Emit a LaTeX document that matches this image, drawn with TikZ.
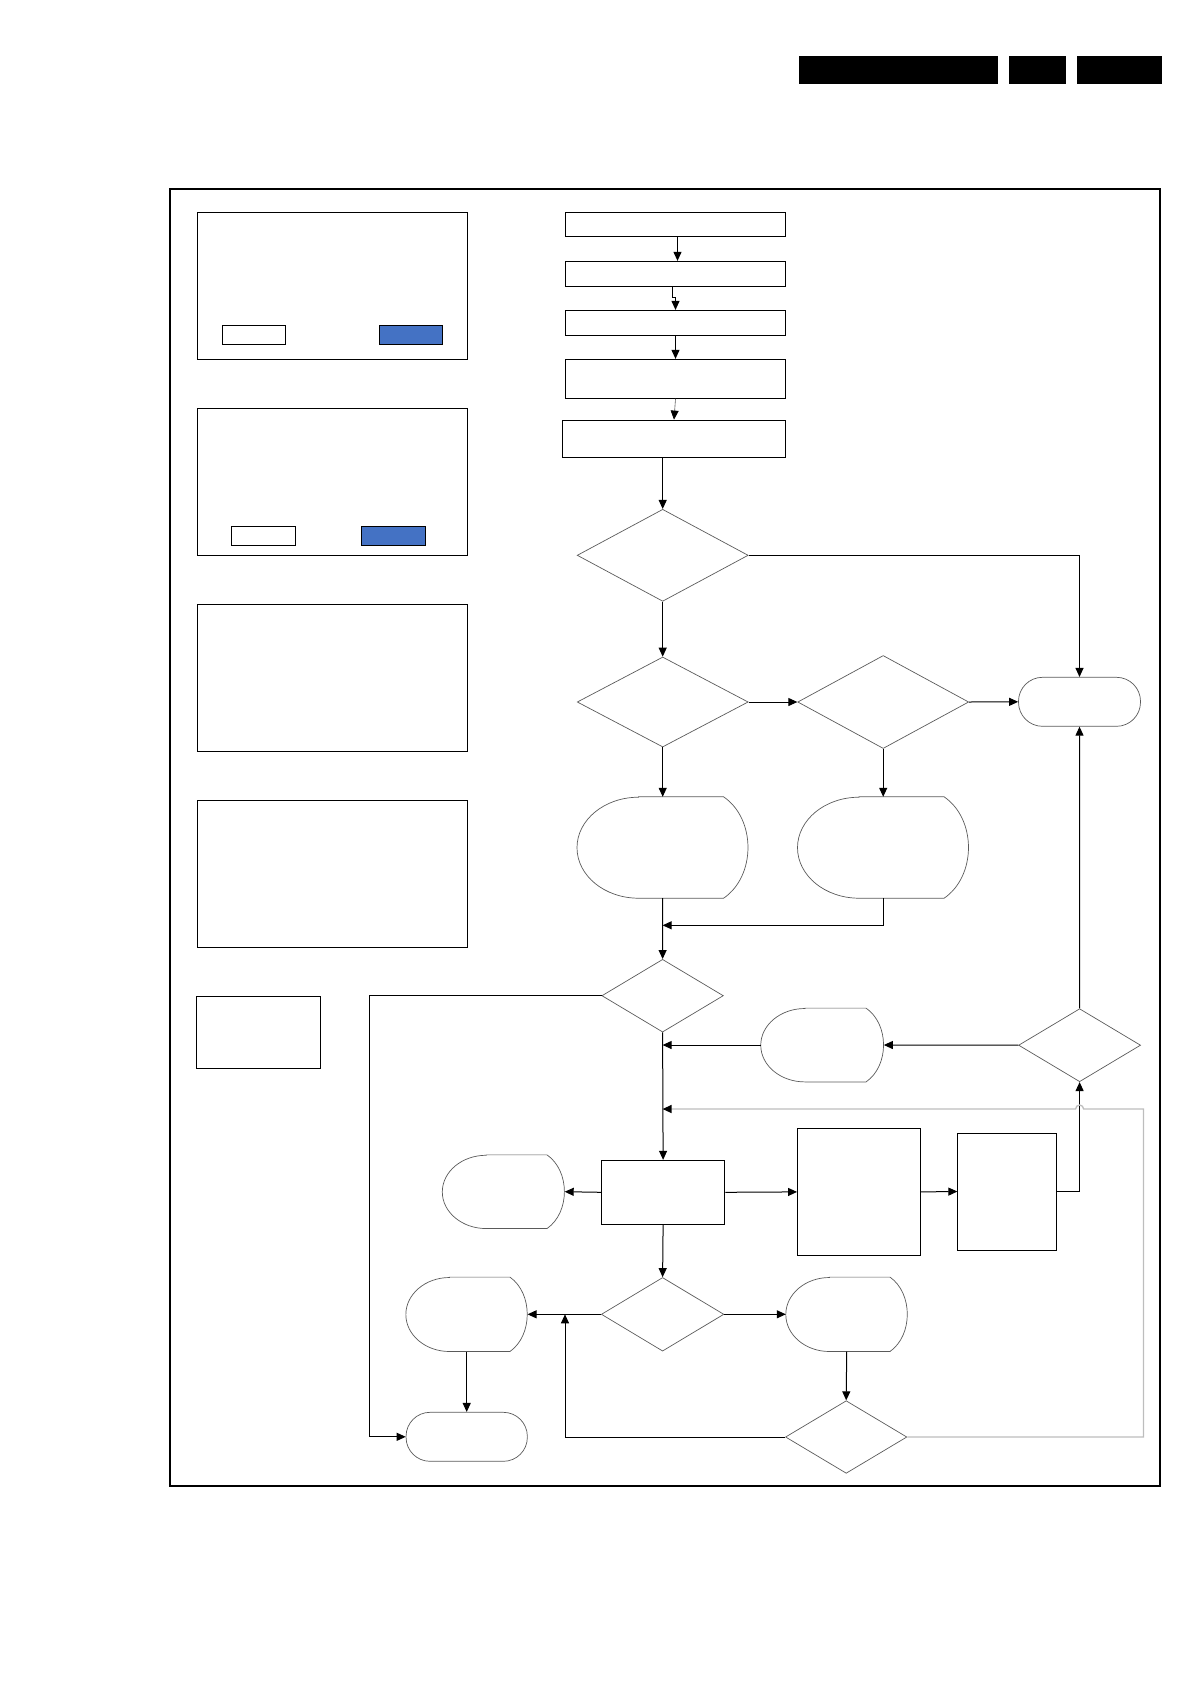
\documentclass[tikz,border=0pt]{standalone}
\usepackage{xcolor}
\usepackage{tikz}
\usetikzlibrary{arrows.meta, shapes.geometric}

\definecolor{linegray}{HTML}{5A5A5A}
\definecolor{loopgray}{HTML}{BDBDBD}
\definecolor{btnblue}{HTML}{4472C4}

% display shape: name, x, y, width, height
\newcommand{\dispnode}[5]{%
  \node[hold, minimum width=#4pt, minimum height=#5pt] (#1) at (#2,#3) {};
  \draw[outl] ([xshift=0.36*#4pt]#1.north west) -- ([xshift=-0.145*#4pt]#1.north east)
    .. controls +(0.19*#4pt,-0.22*#5pt) and +(0.19*#4pt,0.22*#5pt) .. ([xshift=-0.145*#4pt]#1.south east)
    -- ([xshift=0.36*#4pt]#1.south west)
    arc[start angle=270, end angle=90, x radius=0.36*#4pt, y radius=0.5*#5pt] -- cycle;
}

\begin{document}
\begin{tikzpicture}[x=1pt, y=1pt,
  box/.style={rectangle, draw, line width=0.9pt, inner sep=0},
  hold/.style={rectangle, inner sep=0},
  outl/.style={draw=linegray, line width=0.7pt},
  dia/.style={diamond, draw=linegray, line width=0.7pt, inner sep=0},
  term/.style={rectangle, draw=linegray, line width=0.7pt, rounded corners=24pt,
               minimum width=122pt, minimum height=49pt, inner sep=0},
  bar/.style={rectangle, fill=black, inner sep=0, minimum height=28pt},
  arrow/.style={-{Triangle[length=9pt, width=8pt]}, line width=1pt},
  gline/.style={-{Triangle[length=9pt, width=8pt, color=black]}, draw=loopgray, line width=1.3pt}
]
\useasboundingbox (0,0) rectangle (1191,-1684);

% header bars
\node[bar, minimum width=199pt] (hd1) at (898.5,-70) {};
\node[bar, minimum width=57pt]  (hd2) at (1037.5,-70) {};
\node[bar, minimum width=85pt]  (hd3) at (1119.5,-70) {};

% frame
\node[box, line width=1.3pt, minimum width=990pt, minimum height=1297pt] (frame) at (664.9,-837.5) {};

% left panels
\node[box, minimum width=270pt, minimum height=147pt] (pan1) at (332.3,-285.8) {};
\node[box, minimum width=270pt, minimum height=147pt] (pan2) at (332.3,-481.8) {};
\node[box, minimum width=270pt, minimum height=147pt] (pan3) at (332.3,-677.8) {};
\node[box, minimum width=270pt, minimum height=147pt] (pan4) at (332.3,-873.8) {};
\node[box, minimum width=123.5pt, minimum height=72pt] (pan5) at (258.3,-1032.6) {};
\node[box, minimum width=63.4pt, minimum height=19pt] (btn1a) at (254,-334.8) {};
\node[box, fill=btnblue, minimum width=63pt, minimum height=19pt] (btn1b) at (410.8,-334.8) {};
\node[box, minimum width=64.4pt, minimum height=19pt] (btn2a) at (263.5,-535.8) {};
\node[box, fill=btnblue, minimum width=64.4pt, minimum height=19pt] (btn2b) at (393.5,-535.8) {};

% start steps
\node[box, minimum width=220.4pt, minimum height=23.7pt] (st1) at (675.5,-224.2) {};
\node[box, minimum width=220.4pt, minimum height=25pt]   (st2) at (675.5,-273.8) {};
\node[box, minimum width=220.4pt, minimum height=24.7pt] (st3) at (675.5,-322.7) {};
\node[box, minimum width=220.4pt, minimum height=39pt]   (st4) at (675.5,-378.8) {};
\node[box, minimum width=223.4pt, minimum height=37.3pt] (st5) at (674,-438.7) {};

% decisions, upper part
\node[dia, minimum width=171pt, minimum height=92pt] (q1) at (662.7,-555.3) {};
\node[dia, minimum width=171pt, minimum height=90pt] (q2) at (662.7,-702) {};
\node[dia, minimum width=171pt, minimum height=93pt] (q3) at (883.2,-702) {};
\node[term] (endA) at (1079.5,-701.8) {};
\dispnode{dsp1}{662.7}{-847.5}{171}{101}
\dispnode{dsp2}{883.2}{-847.5}{171}{101}

% lower part
\node[dia, minimum width=121.5pt, minimum height=72.7pt] (q4) at (662.6,-995.7) {};
\dispnode{dsp3}{822.3}{-1045}{122.7}{73.4}
\node[dia, minimum width=122pt, minimum height=73pt] (q5) at (1079.6,-1045.2) {};
\node[box, minimum width=123.4pt, minimum height=64pt] (proc) at (663.1,-1192.3) {};
\dispnode{dsp4}{503.5}{-1191.7}{122}{73.3}
\node[box, minimum width=123pt, minimum height=127.2pt] (blk1) at (859,-1191.9) {};
\node[box, minimum width=98.2pt, minimum height=117pt] (blk2) at (1006.9,-1191.5) {};
\node[dia, minimum width=122.5pt, minimum height=73.6pt] (q6) at (662.6,-1314.3) {};
\dispnode{dsp5}{466.7}{-1314.3}{121.3}{74}
\dispnode{dsp6}{846.7}{-1314.3}{121.4}{74}
\node[dia, minimum width=121.4pt, minimum height=72.6pt] (q7) at (846.2,-1437) {};
\node[term, minimum width=121.3pt] (endB) at (466.7,-1436.8) {};

\coordinate (mrg) at (662.6,-925.3);
\coordinate (lp) at (369.2,-995.7);
\coordinate (rt) at (565,-1314.3);
\coordinate (gc) at (1143.5,-1109);

% connectors
\draw[arrow] ([xshift=2pt]st1.south) -- ([xshift=2pt]st2.north);
\draw[arrow] ([xshift=-3pt]st2.south) -- ++(0,-11) -| (st3.north);
\draw[arrow] (st3.south) -- (st4.north);
\draw[-{Triangle[length=9pt, width=8pt, color=black]}, draw=linegray, line width=0.6pt] (st4.south) -- (st5.north);
\draw[arrow] (q1.north |- st5.south) -- (q1.north);
\draw[arrow] (q1.east) -| (endA.north);
\draw[arrow] (q1.south) -- (q2.north);
\draw[arrow] (q2.east) -- (q3.west);
\draw[arrow] (q3.east) -- (endA.west);
\draw[arrow] (q2.south) -- (dsp1.north);
\draw[arrow] (q3.south) -- (dsp2.north);
\draw[arrow] (dsp1.south) -- (q4.north);
\draw[arrow] (dsp2.south) |- (mrg);
\draw[arrow] (q4.west) -- (lp) |- (endB.west);
\draw[arrow] (q5.north) -- (endA.south);
\draw[arrow] (q5.west) -- (dsp3.east);
\draw[arrow] (dsp3.west) -- (q4.south |- dsp3.west);
\draw[arrow] (q4.south) -- (proc.north);
\draw[arrow] (proc.west) -- (dsp4.east);
\draw[arrow] (proc.east) -- (blk1.west);
\draw[arrow] (blk1.east) -- (blk2.west);
\draw[arrow] (blk2.east) -| (q5.south);
\draw[arrow] (proc.south) -- (q6.north);
\draw[arrow] (q6.west) -- (dsp5.east);
\draw[arrow] (q6.east) -- (dsp6.west);
\draw[arrow] (dsp6.south) -- (q7.north);
\draw[arrow] (dsp5.south) -- (endB.north);
\draw[arrow] (q7.west) -| (rt);
\draw[gline] (q7.east) -| (gc) -- ([xshift=4pt]q5.south |- gc)
  arc[start angle=0, end angle=180, radius=4pt] -- (q4.south |- gc);
\end{tikzpicture}
\end{document}
